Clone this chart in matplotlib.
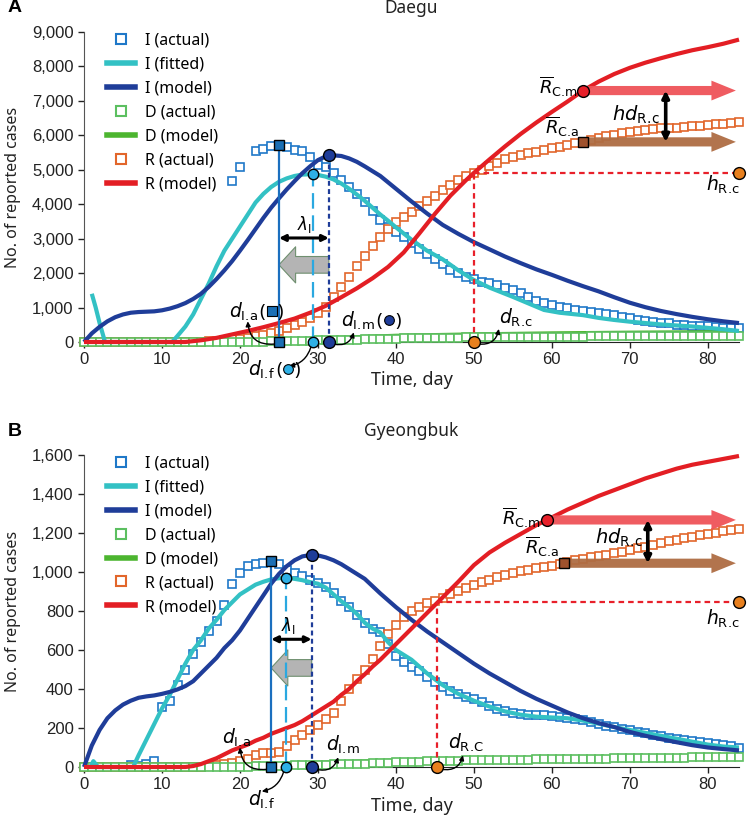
import numpy as np
import matplotlib
matplotlib.use("Agg")
import matplotlib.pyplot as plt
from matplotlib.lines import Line2D
from matplotlib.patches import FancyArrowPatch
from matplotlib.transforms import IdentityTransform
from matplotlib.ticker import FuncFormatter

plt.rcParams['font.family'] = ['Noto Sans', 'DejaVu Sans']
plt.rcParams['mathtext.fontset'] = 'dejavusans'

# colours
C_IACT = "#1f78c8"
C_IFIT = "#33c1c4"
C_IMOD = "#1f3d99"
C_DACT = "#5cbf60"
C_DMOD = "#4cb52f"
C_RACT = "#e2662b"
C_RMOD = "#e31e24"

# ---------------- Daegu ----------------
dg_i_act_day = [19, 20] + list(range(22, 85))
dg_i_act = [4680, 5090, 5550, 5600, 5700, 5720, 5670, 5580, 5550,
            5380, 5150, 5090, 4900, 4700, 4500, 4300, 4050, 3800, 3550,
            3340, 3200, 3050, 2880, 2700, 2550, 2400, 2250, 2100, 2000,
            1900, 1820, 1750, 1700, 1650, 1580, 1510, 1420, 1300, 1200,
            1130, 1080, 1020, 980, 940, 900, 870, 830, 800, 770,
            740, 700, 650, 600, 580, 560, 540, 500, 490, 470,
            460, 450, 440, 420, 410, 400]

dg_i_fit_day = [1, 1.5, 2, 2.7, 11.3] + list(range(12, 41)) + [42, 44, 46, 48, 50, 52] + \
               [55, 57, 59, 61, 64, 66, 68, 70, 72, 74, 76, 78, 80, 82, 84]
dg_i_fit = [1400, 1000, 550, 0,
            0, 180, 450, 800, 1250, 1700, 2200, 2650, 3000, 3350, 3700, 4050, 4300, 4500,
            4650, 4750, 4820, 4860, 4870, 4850, 4800, 4720, 4600, 4450, 4280, 4100, 3900,
            3700, 3520, 3330,
            2970, 2650, 2400, 2080, 1800, 1580,
            1310, 1120, 930, 850, 780, 700, 640, 590, 550, 510, 480, 450, 410, 370, 320]

dg_i_mod_day = list(range(0, 37)) + list(range(38, 85, 2))
dg_i_mod = [0, 250, 440, 600, 720, 800, 850, 870, 880, 890,
            920, 970, 1040, 1130, 1250, 1400, 1600, 1830, 2080, 2350,
            2650, 2960, 3280, 3600, 3900, 4170, 4430, 4670, 4900, 5100,
            5280, 5390, 5420, 5400, 5330, 5230, 5100,
            4820, 4450, 4080, 3730, 3400, 3140, 2900, 2690, 2480, 2290, 2110, 1950,
            1780, 1620, 1470, 1300, 1140, 1010, 900, 810, 730, 660, 600, 550]

dg_d_act = [0] * 20 + [5, 8, 11, 14, 17, 20, 25, 30, 35, 40,
                       45, 50, 55, 60, 65, 70, 76, 82, 88, 94,
                       100, 104, 108, 112, 116, 120, 123, 126, 129, 132,
                       135, 137, 139, 141, 143, 145, 147, 149, 151, 153,
                       155, 156, 157, 158, 159, 160, 161, 162, 163, 164,
                       165, 166, 167, 168, 169, 170, 171, 172, 173, 174,
                       175, 176, 177, 177, 178]
dg_d_mod_day = [0, 18, 20, 25, 30, 35, 40, 50, 60, 70, 84]
dg_d_mod = [0, 0, 10, 40, 80, 120, 160, 200, 230, 250, 270]

dg_r_act = [0] * 15 + [10, 20, 40, 60, 80, 100, 130, 170, 210, 260,
                       330, 400, 480, 580, 700, 840, 1030, 1300, 1600, 1900,
                       2200, 2500, 2780, 3050, 3280, 3480, 3620, 3780, 3950, 4100,
                       4250, 4400, 4550, 4700, 4820, 4910, 5000, 5100, 5200, 5300,
                       5380, 5430, 5480, 5530, 5580, 5620, 5670, 5720, 5770, 5810,
                       5860, 5920, 5980, 6020, 6060, 6100, 6130, 6160, 6180, 6200,
                       6210, 6220, 6240, 6260, 6280, 6300, 6320, 6340, 6370, 6400]

dg_r_mod_day = [0, 13] + list(range(15, 50, 2)) + [50] + list(range(52, 85, 2))
dg_r_mod = [0, 0, 50, 120, 220, 320, 430, 550, 680, 850, 1050, 1300, 1560, 1850,
            2180, 2600, 3150, 3720, 4250, 4700, 4910,
            5300, 5680, 6040, 6370, 6680, 6980, 7300, 7560, 7780, 7960, 8110,
            8240, 8360, 8470, 8560, 8660, 8780]

# key points (day, value)
dg_dIa = (25, 5720)
dg_dIf = (29.4, 4870)
dg_dIm = (31.4, 5420)
dg_dRc = (50, 4910)
dg_RCm = (64, 7300)
dg_RCa = (64, 5810)

# ---------------- Gyeongbuk ----------------
gb_i_act_day = list(range(6, 85))
gb_i_act = [10, 5, 15, 30,
            310, 340, 420, 500, 580, 640, 700, 750, 830, 940,
            995, 1030, 1040, 1045, 1057, 1040, 1010, 995, 980, 960,
            945, 925, 890, 850, 820, 780, 740, 710, 690, 630,
            570, 540, 515, 490, 460, 435, 410, 390, 375, 360,
            350, 335, 315, 295, 285, 275, 270, 265, 265, 265,
            260, 255, 250, 245, 240, 230, 222, 212, 205, 197,
            190, 182, 175, 165, 158, 150, 142, 138, 133, 130,
            125, 118, 112, 106, 100]

gb_i_fit_day = [0.8, 1.2, 1.8, 6.3] + list(range(7, 47)) + list(range(48, 85, 2))
gb_i_fit = [0, 30, 0, 0,
            60, 140, 220, 300, 370, 450, 530, 600, 650, 710,
            755, 805, 845, 885, 910, 935, 950, 962, 968, 970,
            965, 958, 948, 940, 920, 885, 850, 820, 785, 740,
            710, 690, 640, 600, 575, 550, 515, 480, 450, 420,
            375, 340, 310, 285, 268, 258, 254, 250, 238, 222, 205, 190, 175, 160,
            145, 130, 115, 105, 100]

gb_i_mod_day = list(range(0, 35)) + list(range(36, 85, 2))
gb_i_mod = [0, 110, 190, 250, 290, 320, 340, 355, 362, 367,
            375, 385, 398, 415, 440, 480, 520, 560, 610, 650,
            700, 760, 820, 880, 940, 990, 1030, 1060, 1080, 1087,
            1085, 1075, 1060, 1040, 1015,
            965, 890, 820, 755, 695, 640, 585, 530, 480, 435,
            390, 350, 315, 280, 250, 225, 205, 180, 160, 143,
            127, 112, 100, 92, 85]

gb_d_act = [0] * 20 + [1, 2, 3, 4, 5, 6, 7, 8, 9, 10,
                       11, 12, 13, 14, 15, 16, 17, 19, 21, 23,
                       25, 26, 27, 28, 29, 30, 31, 32, 33, 34,
                       35, 35, 36, 36, 37, 37, 38, 38, 39, 39,
                       40, 40, 41, 41, 42, 42, 43, 43, 44, 44,
                       45, 45, 46, 46, 47, 47, 48, 48, 49, 49,
                       50, 50, 50, 51, 51]
gb_d_mod_day = [0, 15, 20, 30, 40, 50, 60, 70, 84]
gb_d_mod = [0, 0, 5, 18, 30, 38, 44, 48, 55]

gb_r_act = [0] * 16 + [5, 10, 15, 20, 30, 40, 60, 70, 73,
                       75, 110, 140, 165, 190, 215, 245, 275, 340, 400,
                       450, 500, 555, 620, 680, 730, 770, 800, 820, 840,
                       850, 865, 885, 905, 920, 935, 950, 960, 975, 985,
                       995, 1005, 1012, 1018, 1025, 1033, 1040, 1050, 1060, 1068,
                       1075, 1080, 1088, 1095, 1105, 1113, 1122, 1130, 1140, 1150,
                       1158, 1165, 1172, 1180, 1188, 1195, 1202, 1208, 1214, 1220]

gb_r_mod_day = [0, 13] + list(range(14, 49)) + list(range(50, 85, 2))
gb_r_mod = [0, 0, 5, 15, 30, 45, 65, 85, 100, 115, 135, 150,
            170, 185, 200, 215, 235, 260, 285, 310, 335, 370,
            400, 440, 475, 515, 550, 590, 630, 670, 710, 750,
            790, 830, 870, 910, 950,
            1035, 1100, 1150, 1195, 1240, 1280, 1320, 1355, 1390, 1420, 1450,
            1480, 1505, 1530, 1550, 1565, 1580, 1595]

gb_dIa = (24, 1057)
gb_dIf = (25.9, 970)
gb_dIm = (29.2, 1087)
gb_dRc = (45.3, 846)
gb_RCm = (59.4, 1267)
gb_RCa = (61.5, 1045)

all_days = list(range(0, 85))

fig = plt.figure(figsize=(7.5, 8.24), dpi=100)
W, H = 750.0, 824.0
paren_labels = []   # filled later, once the layout is known


def sub(s):
    # subscript like "I.a"; \! cancels the thin space mathtext adds after a period
    a, b = s.split('.')
    return r"\mathrm{%s}.\!\mathrm{%s}" % (a, b)


def sq(ax, x, y, c, z):
    ax.plot(x, y, ls='none', marker='s', ms=6, mfc='white', mec=c, mew=1.2,
            zorder=z, clip_on=False)


def ln(ax, x, y, c, z, lw=3.0):
    ax.plot(x, y, color=c, lw=lw, zorder=z, clip_on=False, solid_capstyle='butt')


def arrow(ax, p0, p1, style, color, ms=10, lw=1.0, z=6, rad=0.0, alpha=1.0):
    a = FancyArrowPatch(p0, p1, arrowstyle=style, mutation_scale=ms, lw=lw,
                        color=color, zorder=z, shrinkA=0, shrinkB=0,
                        connectionstyle="arc3,rad=%s" % rad, clip_on=False, alpha=alpha)
    ax.add_patch(a)


def dlabel(ax, x, y, s, marker=None, mcolor=None):
    t = ax.text(x, y, r"$d_{%s}$" % sub(s), fontsize=13.5, ha='left', va='center', zorder=8)
    if marker is not None:
        paren_labels.append((ax, t, x, y, marker, mcolor))


def add_parens():
    r = fig.canvas.get_renderer()
    for ax, t, x, y, marker, mcolor in paren_labels:
        bb = t.get_window_extent(r)
        px, py = ax.transData.transform((x, y))
        x0 = bb.x1 + 1
        ax.text(x0, py, "(", fontsize=13, ha='left', va='center',
                transform=IdentityTransform(), zorder=8)
        ax.plot([x0 + 12.5], [py + 1], marker=marker, ms=7, mfc=mcolor, mec='black', mew=0.8,
                transform=IdentityTransform(), zorder=8, clip_on=False)
        ax.text(x0 + 18.5, py, ")", fontsize=13, ha='left', va='center',
                transform=IdentityTransform(), zorder=8)


def panel(ax, d, ymax, ystep, title, letter, lab):
    sq(ax, d['i_act_day'], d['i_act'], C_IACT, 2)
    sq(ax, all_days, d['r_act'], C_RACT, 2.1)
    ln(ax, d['d_mod_day'], d['d_mod'], C_DMOD, 2.2, lw=4.0)
    sq(ax, all_days, d['d_act'], C_DACT, 2.3)
    ln(ax, d['i_fit_day'], d['i_fit'], C_IFIT, 3)
    ln(ax, d['i_mod_day'], d['i_mod'], C_IMOD, 3.1)
    ln(ax, d['r_mod_day'], d['r_mod'], C_RMOD, 3.2)

    dIa, dIf, dIm, dRc, RCm, RCa = d['dIa'], d['dIf'], d['dIm'], d['dRc'], d['RCm'], d['RCa']
    # vertical marker lines
    ax.plot([dIa[0]] * 2, [0, dIa[1]], color="#1b6fbf", lw=1.6, zorder=5, clip_on=False)
    ax.plot([dIf[0]] * 2, [0, dIf[1]], color="#2aa8e0", lw=1.6, ls=(0, (7, 3)), zorder=5)
    ax.plot([dIm[0]] * 2, [0, dIm[1]], color=C_IMOD, lw=1.6, ls=(0, (2.2, 1.5)), zorder=5)
    ax.plot([dRc[0]] * 2, [0, dRc[1]], color="#e8202a", lw=1.6, ls=(0, (2.5, 1.8)), zorder=5)
    ax.plot([dRc[0], 84], [dRc[1]] * 2, color="#e8202a", lw=1.6, ls=(0, (2.5, 1.8)), zorder=5,
            clip_on=False)

    # lambda and grey arrow
    arrow(ax, (dIa[0], lab['lam_y']), (dIm[0], lab['lam_y']), '<|-|>', 'black', ms=9, lw=2.2, z=6)
    ax.text(lab['lam_x'], lab['lam_ty'], r"$\lambda_{\mathrm{I}}$", fontsize=12,
            ha='center', va='center', zorder=8)
    ga = FancyArrowPatch((dIm[0], lab['gray_y']), (dIa[0], lab['gray_y']),
                         arrowstyle='simple,tail_width=0.6,head_width=1.3,head_length=0.6',
                         mutation_scale=20, facecolor="#b4b4b4", edgecolor="#6f8f6f",
                         lw=0.8, zorder=4, shrinkA=0, shrinkB=0)
    ax.add_patch(ga)

    # R arrows
    st = 'simple,tail_width=0.6,head_width=1.3,head_length=1.6'
    arrow(ax, (RCm[0], RCm[1]), (83.6, RCm[1]), st, "#ef5358", ms=11, lw=0, z=4, alpha=0.95)
    arrow(ax, (RCa[0], RCa[1]), (83.6, RCa[1]), st, "#ae6d43", ms=11, lw=0, z=4, alpha=0.95)
    arrow(ax, (lab['hd_x'], RCa[1]), (lab['hd_x'], RCm[1]), '<|-|>', 'black', ms=10, lw=2.6, z=6)
    ax.text(lab['hd_tx'], lab['hd_ty'], r"$hd_{%s}$" % sub('R.c'), fontsize=14,
            ha='right', va='center', zorder=8)
    ax.text(lab['rcm_x'], lab['rcm_y'], r"$\overline{R}_{%s}$" % sub('C.m'), fontsize=13,
            ha='right', va='center', zorder=8)
    ax.text(lab['rca_x'], lab['rca_y'], r"$\overline{R}_{%s}$" % sub('C.a'), fontsize=13,
            ha='right', va='center', zorder=8)
    ax.text(84.1, lab['hrc_y'], r"$h_{%s}$" % sub('R.c'), fontsize=13.5, ha='right',
            va='center', zorder=8)

    # key markers
    mk = dict(mec='black', mew=1.0, zorder=7, clip_on=False, ls='none')
    ax.plot([dIa[0], dIa[0]], [0, dIa[1]], marker='s', ms=7.5, mfc="#1b6fb4", **mk)
    ax.plot([dIf[0], dIf[0]], [0, dIf[1]], marker='o', ms=7.5, mfc="#2eb0e6", **mk)
    ax.plot([dIm[0], dIm[0]], [0, dIm[1]], marker='o', ms=8.5, mfc=C_IMOD, **mk)
    ax.plot([dRc[0], 84], [0, dRc[1]], marker='o', ms=8.5, mfc="#e8801e", **mk)
    ax.plot([RCm[0]], [RCm[1]], marker='o', ms=8.5, mfc="#e8202a", **mk)
    ax.plot([RCa[0]], [RCa[1]], marker='s', ms=7.5, mfc="#a0522d", **mk)

    # d labels and curved arrows
    for key, p, mkr, mcol, s in (('a', dIa, 's', "#1b6fb4", 'I.a'),
                                 ('m', dIm, 'o', C_IMOD, 'I.m'),
                                 ('f', dIf, 'o', "#2eb0e6", 'I.f'),
                                 ('r', dRc, None, None, lab['rc_sub'])):
        tx, ty = lab['t_' + key]
        hx, hy = lab['h_' + key]
        dlabel(ax, tx, ty, s, mkr if lab['paren'] and key != 'r' else None, mcol)
        arrow(ax, (p[0] + lab['s_' + key][0], lab['s_' + key][1]), (hx, hy), '-|>', 'black',
              ms=7, lw=1.0, z=6, rad=lab['rad_' + key])

    ax.set_xlim(0, 84)
    ax.set_ylim(0, ymax)
    ax.set_xticks(range(0, 81, 10))
    ax.set_yticks(np.arange(0, ymax + 1, ystep))
    ax.yaxis.set_major_formatter(FuncFormatter(lambda v, p: "{:,.0f}".format(v)))
    for s in ('top', 'right'):
        ax.spines[s].set_visible(False)
    ax.spines['left'].set_color("#555555")
    ax.spines['bottom'].set_color("#222222")
    ax.spines['bottom'].set_zorder(1)
    ax.tick_params(direction='out', length=4, width=1, colors="#222222", labelsize=12)
    for t in ax.get_xticklabels() + ax.get_yticklabels():
        t.set_fontfamily('Liberation Sans')
    ax.set_ylabel("No. of reported cases", fontsize=11.5, color="#222222")
    ax.yaxis.set_label_coords(-0.096, 0.5)
    ax.set_xlabel("Time, day", fontsize=13, color="#222222")
    ax.xaxis.set_label_coords(0.5, -0.095)

    handles = [
        Line2D([], [], ls='none', marker='s', ms=7, mfc='white', mec=C_IACT, mew=1.5),
        Line2D([], [], color=C_IFIT, lw=4),
        Line2D([], [], color=C_IMOD, lw=4),
        Line2D([], [], ls='none', marker='s', ms=7, mfc='white', mec=C_DACT, mew=1.5),
        Line2D([], [], color=C_DMOD, lw=4),
        Line2D([], [], ls='none', marker='s', ms=7, mfc='white', mec=C_RACT, mew=1.5),
        Line2D([], [], color=C_RMOD, lw=4),
    ]
    names = ["I (actual)", "I (fitted)", "I (model)", "D (actual)", "D (model)",
             "R (actual)", "R (model)"]
    ax.legend(handles, names, loc='upper left', bbox_to_anchor=(0.026, 1.02), frameon=False,
              prop={'size': 11.5}, handlelength=1.75, handletextpad=0.6, labelspacing=0.5,
              borderaxespad=0)

    bb = ax.get_position()
    fig.text((bb.x0 + bb.x1) / 2, bb.y1 + 24 / H, title, ha='center', va='center',
             fontsize=12.5, color="#222222")
    fig.text(8 / W, bb.y1 + 24 / H, letter, ha='left', va='center', fontsize=14,
             fontweight='bold', fontfamily='Liberation Sans')


axA = fig.add_axes([84 / W, 1 - 342 / H, 655 / W, 310 / H])
axB = fig.add_axes([84 / W, 1 - 767 / H, 655 / W, 312 / H])

dg = dict(i_act_day=dg_i_act_day, i_act=dg_i_act, i_fit_day=dg_i_fit_day, i_fit=dg_i_fit,
          i_mod_day=dg_i_mod_day, i_mod=dg_i_mod, d_act=dg_d_act, d_mod_day=dg_d_mod_day,
          d_mod=dg_d_mod, r_act=dg_r_act, r_mod_day=dg_r_mod_day, r_mod=dg_r_mod,
          dIa=dg_dIa, dIf=dg_dIf, dIm=dg_dIm, dRc=dg_dRc, RCm=dg_RCm, RCa=dg_RCa)
gb = dict(i_act_day=gb_i_act_day, i_act=gb_i_act, i_fit_day=gb_i_fit_day, i_fit=gb_i_fit,
          i_mod_day=gb_i_mod_day, i_mod=gb_i_mod, d_act=gb_d_act, d_mod_day=gb_d_mod_day,
          d_mod=gb_d_mod, r_act=gb_r_act, r_mod_day=gb_r_mod_day, r_mod=gb_r_mod,
          dIa=gb_dIa, dIf=gb_dIf, dIm=gb_dIm, dRc=gb_dRc, RCm=gb_RCm, RCa=gb_RCa)

lab_dg = dict(lam_y=3020, lam_x=28.3, lam_ty=3400, gray_y=2240, hd_x=74.6, hd_tx=73.8, hd_ty=6600,
              rcm_x=63.3, rcm_y=7400, rca_x=63.6, rca_y=6250, hrc_y=4560, paren=True, rc_sub='R.c',
              t_a=(18.6, 870), h_a=(21.0, 600), s_a=(-0.6, -60), rad_a=-0.5,
              t_m=(33.0, 610), h_m=(34.6, 280), s_m=(0.6, -60), rad_m=0.45,
              t_f=(21.0, -810), h_f=(26.3, -700), s_f=(-0.3, -150), rad_f=-0.3,
              t_r=(53.2, 700), h_r=(53.2, 380), s_r=(0.6, -60), rad_r=0.45)
lab_gb = dict(lam_y=655, lam_x=26.2, lam_ty=725, gray_y=508, hd_x=72.3, hd_tx=71.7, hd_ty=1175,
              rcm_x=58.6, rcm_y=1280, rca_x=61.0, rca_y=1128, hrc_y=762, paren=False, rc_sub='R.C',
              t_a=(17.7, 150), h_a=(20.0, 100), s_a=(-0.6, -12), rad_a=-0.5,
              t_m=(31.0, 113), h_m=(32.6, 50), s_m=(0.6, -12), rad_m=0.45,
              t_f=(21.0, -170), h_f=(22.8, -125), s_f=(-0.3, -25), rad_f=-0.3,
              t_r=(46.7, 123), h_r=(48.6, 60), s_r=(0.6, -12), rad_r=0.45)

panel(axA, dg, 9000, 1000, "Daegu", "A", lab_dg)
panel(axB, gb, 1600, 200, "Gyeongbuk", "B", lab_gb)
add_parens()

fig.savefig("out.png", dpi=100)
